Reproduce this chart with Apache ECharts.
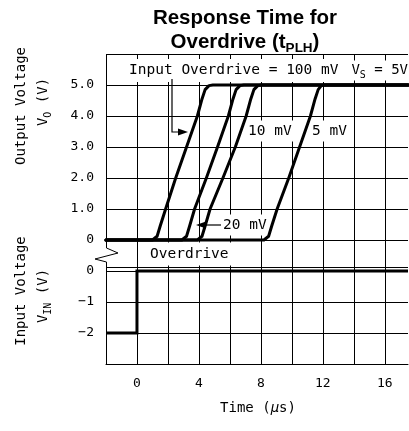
<!DOCTYPE html>
<html><head><meta charset="utf-8">
<script src="https://cdn.jsdelivr.net/npm/echarts@6/dist/echarts.min.js"></script>
<style>html,body{margin:0;padding:0;background:#fff}#c{width:409px;height:431px}</style>
</head><body><div id="c"></div>
<script>
// ---- data (time in µs, voltage in V) ----
const xTickLabels = {0:'0', 4:'4', 8:'8', 12:'12', 16:'16'};
// output axis values 0..5; input section plotted 1 unit lower (input 0 -> -1)
const yTickLabels = {'5':'5.0','4':'4.0','3':'3.0','2':'2.0','1':'1.0','0':'0','-1':'0','-2':'\u22121','-3':'\u22122'};
const INPUT_SHIFT = -1;

const out100mV = [[-2,0],[1.0,0],[1.3,0.12],[1.5,0.45],[1.85,1],[2.5,2],[3.2,3],[3.9,4],[4.2,4.55],[4.4,4.85],[4.65,4.98],[4.9,5],[17.5,5]];
const out20mV  = [[-2,0],[2.9,0],[3.2,0.12],[3.4,0.45],[3.72,1],[4.48,2],[5.2,3],[5.9,4],[6.2,4.55],[6.4,4.85],[6.65,4.98],[6.9,5],[17.5,5]];
const out10mV  = [[-2,0],[3.9,0],[4.2,0.12],[4.4,0.45],[4.72,1],[5.55,2],[6.35,3],[7.05,4],[7.35,4.55],[7.55,4.85],[7.8,4.98],[8.05,5],[17.5,5]];
const out5mV   = [[-2,0],[8.2,0],[8.5,0.12],[8.7,0.45],[9.05,1],[9.8,2],[10.5,3],[11.2,4],[11.5,4.55],[11.7,4.85],[11.9,4.98],[12.1,5],[17.5,5]];
const inputTime = [-2, 0, 0, 17.5];
const inputVolt = [-2, -2, 0, 0];

const MONO = '"DejaVu Sans Mono", monospace';
const SANS = '"Liberation Sans", Arial, sans-serif';
const chart = echarts.init(document.getElementById('c'));

function outSeries(name, pts) {
  return {name, type:'line', data: pts, symbol:'none', showSymbol:false, silent:true, z:3,
    lineStyle:{color:'#000', width:3, join:'round', cap:'round'}};
}
const inputData = inputTime.map((t,i)=>[t, inputVolt[i] + INPUT_SHIFT]);

chart.setOption({
  animation:false,
  backgroundColor:'#fff',
  grid:{left:106, top:54, width:302, height:310, containLabel:false, outerBoundsMode:'none'},
  xAxis:{type:'value', min:-2, max:17.5, interval:2,
    axisLine:{show:true, onZero:false, lineStyle:{color:'#000', width:1}},
    axisTick:{show:false},
    axisLabel:{formatter:v=>xTickLabels[v] ?? '', color:'#000', fontFamily:MONO, fontSize:13, margin:13},
    splitLine:{show:true, showMinLine:false, showMaxLine:false, lineStyle:{color:'#000', width:1}}},
  yAxis:{type:'value', min:-4, max:6, interval:1,
    axisLine:{show:false}, axisTick:{show:false},
    axisLabel:{formatter:v=>yTickLabels[v] ?? '', color:'#000', fontFamily:MONO, fontSize:13, margin:12},
    splitLine:{show:true, lineStyle:{color:'#000', width:1}}},
  series:[
    outSeries('100 mV', out100mV),
    outSeries('20 mV', out20mV),
    outSeries('10 mV', out10mV),
    outSeries('5 mV', out5mV),
    {name:'Input', type:'line', data:inputData, symbol:'none', silent:true, z:3,
      lineStyle:{color:'#000', width:3, join:'miter'},
      markLine:{silent:true, symbol:'none', label:{show:false},
        lineStyle:{color:'#000', width:1, type:'solid'},
        data:[[{coord:[-2,-0.88]},{coord:[17.5,-0.88]}]]}}
  ]
});

const px = (t,v)=>chart.convertToPixel({gridIndex:0},[t,v]);
const xl = Math.round(px(-2,0)[0]);
const yTop = Math.round(px(0,6)[1]);
const yBot = Math.round(px(0,-4)[1]);
const y0 = Math.round(px(0,0)[1]);

function T(x, y, text, o) {
  o = o || {};
  const style = Object.assign({text, x:0, y:0, fill:'#000', fontFamily:MONO, fontSize:14.5,
    align:o.align||'left', verticalAlign:'middle', textAlign:o.align||'left', textVerticalAlign:'middle'}, o.style||{});
  return {type:'text', x, y, rotation:o.rotation||0, z:o.z||1, silent:true, style};
}
const subRich = (fs, fam)=>({s:{fontSize:fs, fontFamily:fam, fill:'#000', verticalAlign:'bottom', lineHeight:fs+10},
                             n:{fontSize:fs+4, fontFamily:fam, fill:'#000', verticalAlign:'middle', lineHeight:fs+10}});

const a1x = 172, a1y = 132;
const a2y = 225;
chart.setOption({graphic:[
  // title
  T(245, 18, 'Response Time for', {align:'center', style:{fontFamily:SANS, fontWeight:'bold', fontSize:20.5}}),
  T(245, 42, '{n|Overdrive (t}{s|PLH}{n|)}', {align:'center', style:{fontFamily:SANS, fontWeight:'bold', fontSize:20.5,
      rich:{n:{fontFamily:SANS, fontWeight:'bold', fontSize:20.5, lineHeight:26, verticalAlign:'middle', fill:'#000'},
            s:{fontFamily:SANS, fontWeight:'bold', fontSize:13.5, lineHeight:26, verticalAlign:'bottom', fill:'#000'}}}}),
  // y axis names
  T(21, 106, 'Output Voltage', {align:'center', rotation:Math.PI/2, style:{fontSize:14}}),
  T(43, 102, '{n|V}{s|O}{n| (V)}', {align:'center', rotation:Math.PI/2, style:{fontSize:14, rich:subRich(10, MONO)}}),
  T(21, 291, 'Input Voltage', {align:'center', rotation:Math.PI/2, style:{fontSize:14}}),
  T(43, 296, '{n|V}{s|IN}{n| (V)}', {align:'center', rotation:Math.PI/2, style:{fontSize:14, rich:subRich(10, MONO)}}),
  // x axis name
  T(258, 408, 'Time ({m|\u03bc}s)', {align:'center', style:{fontSize:14,
      rich:{m:{fontSize:14, fontFamily:MONO, fontStyle:'italic', fill:'#000'}}}}),
  // annotations with white boxes
  T(127, 70.5, 'Input Overdrive = 100 mV', {style:{backgroundColor:'#fff', padding:[4,12,4,2]}}),
  T(408, 70.5, '{n|V}{s|S}{n| = 5V}', {align:'right', style:{backgroundColor:'#fff', padding:[0,0,0,3], rich:subRich(10, MONO)}}),
  T(246, 131, '10 mV', {style:{backgroundColor:'#fff', padding:[3,2,3,2]}}),
  T(310, 131, '5 mV', {style:{backgroundColor:'#fff', padding:[3,2,3,2]}}),
  T(222, a2y, '20 mV', {style:{backgroundColor:'#fff', padding:[3,2,3,1]}}),
  T(145, 254, 'Overdrive', {style:{backgroundColor:'#fff', padding:[4,8,4,5]}}),
  // arrow from "Input"
  {type:'polyline', z:4, silent:true, shape:{points:[[a1x,79],[a1x,a1y],[a1x+8,a1y]]}, style:{stroke:'#000', lineWidth:1.2, fill:null}},
  {type:'polygon', z:4, silent:true, shape:{points:[[a1x+6,a1y-3.5],[a1x+16,a1y],[a1x+6,a1y+3.5]]}, style:{fill:'#000'}},
  // arrow to 20 mV curve
  {type:'line', z:4, silent:true, shape:{x1:221, y1:a2y, x2:204, y2:a2y}, style:{stroke:'#000', lineWidth:1.2}},
  {type:'polygon', z:4, silent:true, shape:{points:[[206,a2y-3.5],[196,a2y],[206,a2y+3.5]]}, style:{fill:'#000'}},
  // left border with break symbol
  {type:'polyline', z:4, silent:true, shape:{points:[[xl+0.5,yTop],[xl+0.5,y0+8],[xl+12,y0+13],[xl-11,y0+19],[xl+0.5,y0+22],[xl+0.5,yBot]]},
    style:{stroke:'#000', lineWidth:1, fill:null}}
]});
</script></body></html>
